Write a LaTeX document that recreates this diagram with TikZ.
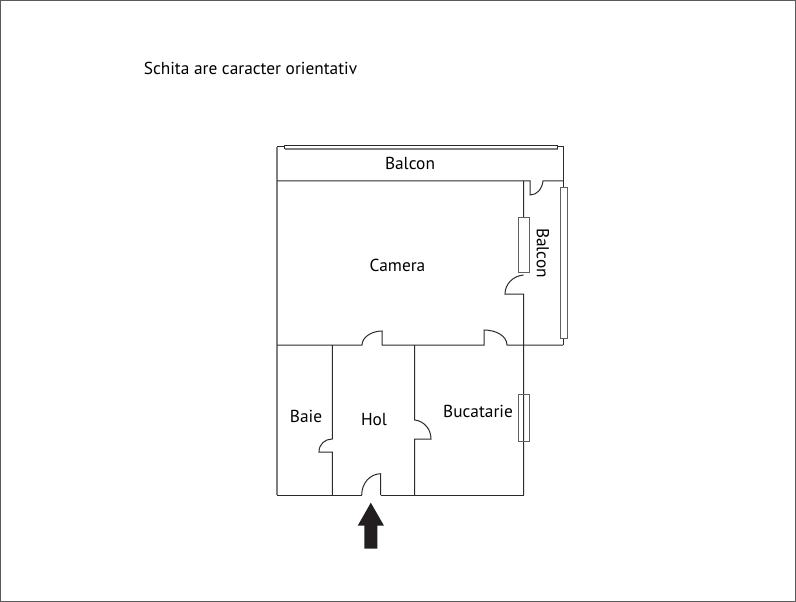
\documentclass[tikz,border=0pt]{standalone}
\usepackage{fontspec}
\setmainfont{PT Sans}
\usetikzlibrary{positioning}
\definecolor{wallcol}{HTML}{2B2B2B}
\definecolor{framecol}{HTML}{5A5A5A}
\definecolor{arrowcol}{HTML}{231F20}
\tikzstyle{wall}=[draw=wallcol, line width=1bp]
\tikzstyle{palewall}=[draw=wallcol!60, line width=1.6bp]
\tikzstyle{glass}=[draw=wallcol!75, line width=1bp]
\tikzstyle{roomname}=[inner sep=0pt, text=black, font=\fontsize{17.4}{20}\selectfont]
\begin{document}
\begin{tikzpicture}[x=1bp,y=-1bp]

\useasboundingbox (0,0) rectangle (796,602);
\draw[draw=framecol, line width=1bp] (0.5,0.5) rectangle (795.5,601.5);

\node[roomname](note) at (250.5,68) {Schita are caracter orientativ};

% outer walls
\draw[palewall] (277,147) -- (277,495);
\draw[wall] (284.5,147) -- (277,147);
\draw[wall] (277,495) -- (361.7,495);
\draw[wall] (557.5,147) -- (563,147) -- (563,188);
\draw[wall] (563,338) -- (563,345);
\draw[wall] (380.7,495) -- (523.5,495);

% balcon wall and balcon door
\draw[wall] (277,181) -- (530,181) -- (530,195) .. controls (537,195) and (542,189) .. (543,181) -- (563,181);

% right wall with door
\draw[wall] (523.5,181) -- (523.5,217) (523.5,275) .. controls (513,276) and (505,284) .. (505,294) -- (523.5,294) -- (523.5,495);

% middle wall with two doors
\draw[wall] (277,345) -- (362,345) .. controls (362,337) and (372,331) .. (382,331) -- (382,345) -- (484,345) -- (484,330) .. controls (496,330) and (507,336) .. (507,345) -- (563,345);

% baie, hol walls
\draw[wall] (332.3,345) -- (332.3,439) .. controls (325,439) and (319,444) .. (319,452) -- (332.3,452) -- (332.3,495);
\draw[wall] (414.7,345) -- (414.7,420) .. controls (424,421) and (431,429) .. (431,439) -- (414.7,439) -- (414.7,495);

% entrance door
\draw[wall] (361.7,495) .. controls (361.7,483) and (370,474) .. (380.7,473.7) -- (380.7,495);

% windows
\draw[palewall] (284.5,149.2) -- (557.5,149.2);
\draw[wall] (284.5,145.5) -- (557.5,145.5) -- (557.5,149.5) (284.5,145.5) -- (284.5,149.5);
\draw[glass] (560.5,188) rectangle (567.5,338);
\draw[glass] (518.5,217) rectangle (529.5,272);
\draw[glass] (518.5,394.5) rectangle (529.5,441.5);

% entrance arrow
\fill[arrowcol] (370.8,502.7) -- (384,525.7) -- (377.3,525.7) -- (377.3,548.7) -- (364.3,548.7) -- (364.3,525.7) -- (357.7,525.7) -- cycle;

\node[roomname](balcon1) at (410,163) {Balcon};
\node[roomname](balcon2) at (543,253) [rotate=-90] {Balcon};
\node[roomname](camera) at (397.5,265) {Camera};
\node[roomname](baie) at (306,416) {Baie};
\node[roomname](hol) at (374,420) {Hol};
\node[roomname](bucatarie) at (478,411) {Bucatarie};

\end{tikzpicture}
\end{document}
